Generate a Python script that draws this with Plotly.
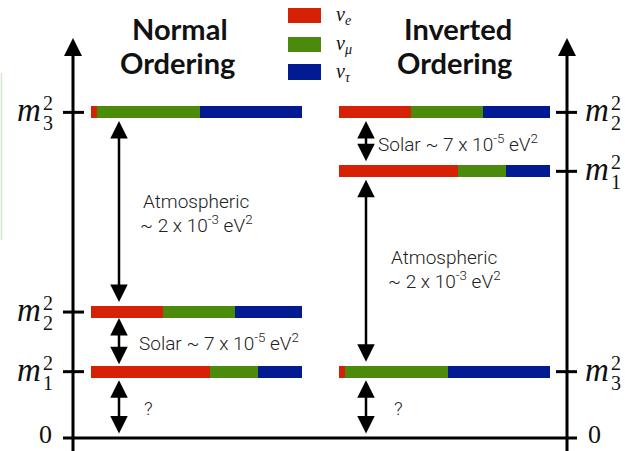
import plotly.graph_objects as go

W, H = 625, 451
PX_PER_UNIT = 67.0        # vertical scale of the schematic
BASE_PX = 438.0           # pixel row of the zero line

# Flavour legend
flavour_labels = ["<i>ν</i><sub><i>e</i></sub>", "<i>ν</i><sub><i>μ</i></sub>", "<i>ν</i><sub><i>τ</i></sub>"]
flavour_colors = ["#d62106", "#4b8b0c", "#021a92"]

# Schematic mass-squared levels (arbitrary units, 0 at the baseline)
normal_states = ["1", "2", "3"]
normal_levels = [0.99, 1.88, 4.86]
inverted_states = ["3", "1", "2"]
inverted_levels = [0.99, 3.98, 4.86]

# Flavour content of each mass state (fraction of the bar)
nu_e_frac = {"1": 0.565, "2": 0.345, "3": 0.03}
nu_mu_frac = {"1": 0.23, "2": 0.34, "3": 0.49}
nu_tau_frac = {"1": 0.205, "2": 0.315, "3": 0.48}

# Horizontal placement of the two panels
normal_x0, inverted_x0, bar_len = 90.5, 338.5, 211.0
left_axis_x, right_axis_x = 73.0, 567.0


def yp(pix):
    """pixel row -> paper coordinate"""
    return 1 - pix / H


def lvl_px(v):
    return BASE_PX - v * PX_PER_UNIT


fig = go.Figure()

fractions = [nu_e_frac, nu_mu_frac, nu_tau_frac]
ys, states, x0s = [], [], []
for s, v in zip(normal_states, normal_levels):
    ys.append(v); states.append(s); x0s.append(normal_x0)
for s, v in zip(inverted_states, inverted_levels):
    ys.append(v); states.append(s); x0s.append(inverted_x0)

cum = [0.0] * len(ys)
for k, frac in enumerate(fractions):
    lengths = [frac[s] * bar_len for s in states]
    bases = [x0 + c for x0, c in zip(x0s, cum)]
    fig.add_trace(go.Bar(
        x=lengths, y=ys, base=bases, orientation="h",
        width=12 / PX_PER_UNIT, marker=dict(color=flavour_colors[k], line_width=0),
        showlegend=False, hoverinfo="skip"))
    cum = [c + l for c, l in zip(cum, lengths)]

shapes = []
annotations = []

# zero line
shapes.append(dict(type="line", xref="x", yref="y", x0=63, x1=577, y0=0, y1=0,
                   line=dict(color="black", width=3)))
# tick marks at the levels
for v in normal_levels:
    shapes.append(dict(type="line", xref="x", yref="y", x0=63, x1=84, y0=v, y1=v,
                       line=dict(color="black", width=3)))
for v in inverted_levels:
    shapes.append(dict(type="line", xref="x", yref="y", x0=556, x1=577, y0=v, y1=v,
                       line=dict(color="black", width=3)))

# vertical axes with arrowheads
top_v = (BASE_PX - 38) / PX_PER_UNIT
bot_v = (BASE_PX - H - 5) / PX_PER_UNIT
for ax_x in (left_axis_x, right_axis_x):
    annotations.append(dict(x=ax_x, y=top_v, ax=ax_x, ay=bot_v, xref="x", yref="y",
                            axref="x", ayref="y", text="", showarrow=True,
                            arrowhead=2, arrowsize=1.2, arrowwidth=3, arrowcolor="black",
                            standoff=0, startstandoff=0))


def double_arrow(x, v_top, v_bot):
    annotations.append(dict(x=x, y=v_top, ax=x, ay=v_bot, xref="x", yref="y",
                            axref="x", ayref="y", text="", showarrow=True,
                            arrowhead=2, startarrowhead=2, arrowside="end+start",
                            arrowsize=1.4, startarrowsize=1.4, arrowwidth=2.5,
                            arrowcolor="black", standoff=0, startstandoff=0))


gap = 8.5 / PX_PER_UNIT
g0 = 3 / PX_PER_UNIT
# normal ordering splittings
double_arrow(119, normal_levels[2] - gap, normal_levels[1] + gap)
double_arrow(119, normal_levels[1] - 6 / PX_PER_UNIT, normal_levels[0] + 6 / PX_PER_UNIT)
double_arrow(119, normal_levels[0] - gap, g0)
# inverted ordering splittings
double_arrow(366, inverted_levels[2] - gap, inverted_levels[1] + gap)
double_arrow(366, inverted_levels[1] - gap, inverted_levels[0] + gap)
double_arrow(366, inverted_levels[0] - gap, g0)

txt_font = dict(family="Roboto, Liberation Sans, sans-serif", size=19, color="#222222", weight=300)


def text(x, y, s, font=txt_font, xanchor="center", yanchor="middle"):
    annotations.append(dict(x=x / W, y=yp(y), xref="paper", yref="paper", text=s,
                            showarrow=False, font=font, xanchor=xanchor, yanchor=yanchor))


text(196, 201, "Atmospheric")
text(196, 224, "~ 2 x 10<sup>-3</sup> eV<sup>2</sup>")
text(137, 342, "Solar ~ 7 x 10<sup>-5</sup> eV<sup>2</sup>", xanchor="left")
text(148, 408, "?")
text(376, 143, "Solar ~ 7 x 10<sup>-5</sup> eV<sup>2</sup>", xanchor="left")
text(444, 257, "Atmospheric")
text(444, 280, "~ 2 x 10<sup>-3</sup> eV<sup>2</sup>")
text(398, 408, "?")

# panel titles
title_font = dict(family="Lato, Open Sans, sans-serif", size=29, color="#111111", weight="bold")
text(180, 28, "Normal", font=title_font)
text(177, 63, "Ordering", font=title_font)
text(458, 28, "Inverted", font=title_font)
text(454, 63, "Ordering", font=title_font)

# flavour key
swatch_rows = [(8, 23), (37, 52), (64, 80)]
for (y0, y1), col, lab in zip(swatch_rows, flavour_colors, flavour_labels):
    shapes.append(dict(type="rect", xref="paper", yref="paper", x0=288 / W, x1=321 / W,
                       y0=yp(y1), y1=yp(y0), fillcolor=col, line_width=0))
    text(334, (y0 + y1) / 2, lab,
         font=dict(family="Liberation Serif, serif", size=20, color="#111111"), xanchor="left")

# level labels m_i^2 and 0
serif = "Liberation Serif, DejaVu Serif, serif"


def mass_label(xm, v, idx):
    py = lvl_px(v)
    text(xm, py - 2, "<i>m</i>", font=dict(family=serif, size=33, color="#111111"))
    text(xm + 19, py - 9, "2", font=dict(family=serif, size=20, color="#111111"))
    text(xm + 19, py + 11, idx, font=dict(family=serif, size=20, color="#111111"))


for s, v in zip(normal_states, normal_levels):
    mass_label(29, v, s)
for s, v in zip(inverted_states, inverted_levels):
    mass_label(597, v, s)
zero_font = dict(family=serif, size=26, color="#111111")
text(45, 451, "0", font=zero_font, yanchor="bottom")
text(594, 451, "0", font=zero_font, yanchor="bottom")

# faint frame edge on the far left
shapes.append(dict(type="line", xref="paper", yref="paper", x0=1.5 / W, x1=1.5 / W,
                   y0=yp(240), y1=yp(73), line=dict(color="rgba(190,220,180,0.7)", width=1.5)))

fig.update_layout(
    width=W, height=H, margin=dict(l=0, r=0, t=0, b=0),
    paper_bgcolor="white", plot_bgcolor="white",
    barmode="overlay", bargap=0,
    xaxis=dict(range=[0, W], visible=False, fixedrange=True),
    yaxis=dict(range=[(BASE_PX - H) / PX_PER_UNIT, BASE_PX / PX_PER_UNIT], visible=False,
               fixedrange=True),
    shapes=shapes, annotations=annotations, showlegend=False,
)

fig.write_html("out.html", config={"displayModeBar": False})
